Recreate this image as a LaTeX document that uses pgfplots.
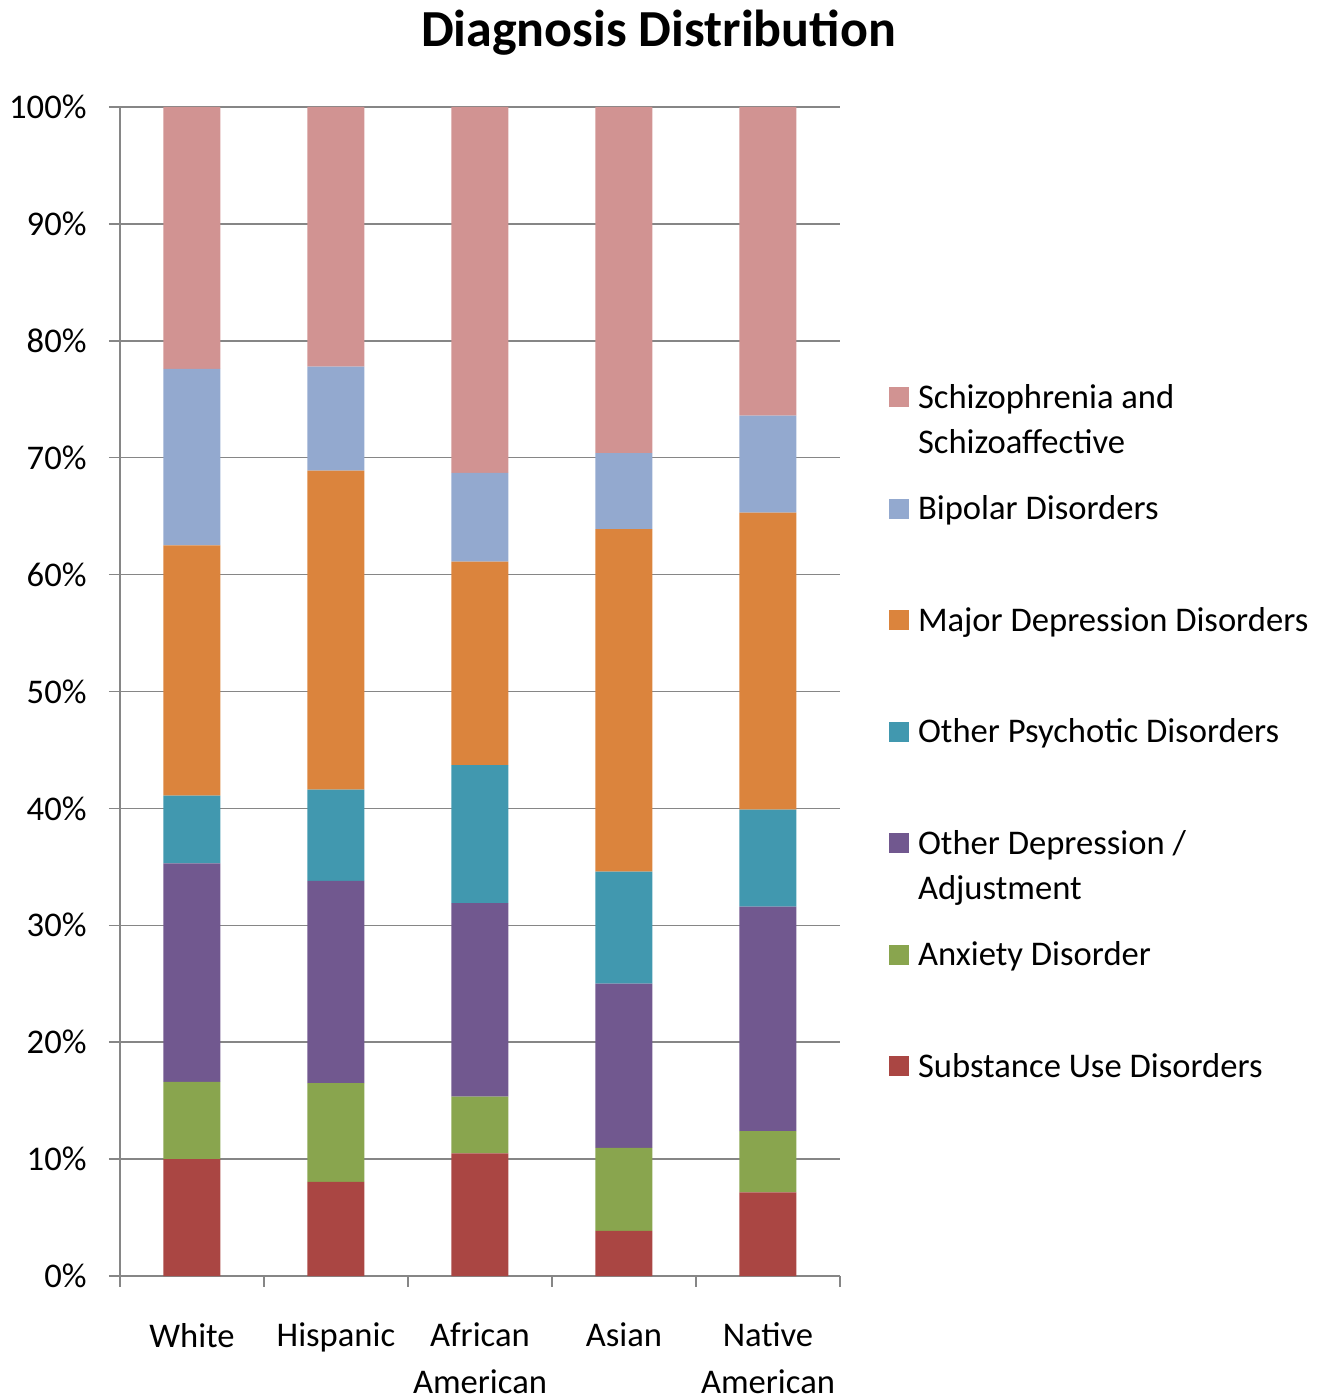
\documentclass[border=0pt]{standalone}
\usepackage{fontspec}
\setmainfont{Carlito}
\usepackage{pgfplots}
\pgfplotsset{compat=1.18}
\definecolor{cSub}{HTML}{AA4643}
\definecolor{cAnx}{HTML}{89A54E}
\definecolor{cODep}{HTML}{71588F}
\definecolor{cOPsy}{HTML}{4198AF}
\definecolor{cMDep}{HTML}{DB843D}
\definecolor{cBip}{HTML}{93A9CF}
\definecolor{cSch}{HTML}{D19392}
\definecolor{axgray}{HTML}{868686}
\newcommand{\LE}[1]{\raisebox{0pt}[28pt][27.75pt]{\parbox[t]{204pt}{\raggedright #1}}}
\pgfplotsset{sq/.style={legend image code/.code={\fill[##1] (0pt,0.5pt) rectangle (10pt,10.5pt);}}}
\begin{document}
\begin{tikzpicture}
\begin{axis}[
  scale only axis, width=360pt, height=584.5pt,
  xmin=-0.5, xmax=4.5, ymin=0, ymax=100,
  ybar stacked, bar width=28.5pt,
  axis lines*=left,
  axis line style={draw=axgray, line width=0.75pt},
  ymajorgrids, grid style={draw=axgray, line width=0.75pt},
  ytick={0,10,...,100},
  yticklabel={\pgfmathprintnumber{\tick}\%},
  xtick={-0.5,0.5,...,4.5}, xticklabels={},
  extra x ticks={0,1,2,3,4},
  extra x tick labels={White,Hispanic,{African\\American},Asian,{Native\\American}},
  extra x tick style={major tick length=0pt},
  xticklabel style={align=center, anchor=north, yshift=-20pt},
  yticklabel style={xshift=-7.7pt},
  tick align=outside, major tick length=5.5pt,
  tick style={draw=axgray, line width=0.75pt},
  /pgf/number format/assume math mode=true,
  ticklabel style={font=\fontsize{17.3}{23.3}\selectfont},
  legend style={at={(axis description cs:1.0681,0.7938)}, anchor=north west,
    draw=none, fill=none, inner sep=0pt, outer sep=0pt, row sep=22.28pt, column sep=2.5pt,
    font=\fontsize{17.3}{22.5}\selectfont,
    cells={anchor=base west, inner sep=0pt, outer sep=0pt}},
  reverse legend,
]
\addplot[sq, fill=cSub, draw=none] coordinates {(0,10.0) (1,8.05) (2,10.5) (3,3.85) (4,7.15)};
\addplot[sq, fill=cAnx, draw=none] coordinates {(0,6.6) (1,8.45) (2,4.85) (3,7.1) (4,5.25)};
\addplot[sq, fill=cODep, draw=none] coordinates {(0,18.7) (1,17.3) (2,16.55) (3,14.05) (4,19.2)};
\addplot[sq, fill=cOPsy, draw=none] coordinates {(0,5.8) (1,7.8) (2,11.8) (3,9.6) (4,8.3)};
\addplot[sq, fill=cMDep, draw=none] coordinates {(0,21.4) (1,27.3) (2,17.4) (3,29.3) (4,25.4)};
\addplot[sq, fill=cBip, draw=none] coordinates {(0,15.1) (1,8.9) (2,7.6) (3,6.5) (4,8.3)};
\addplot[sq, fill=cSch, draw=none] coordinates {(0,22.4) (1,22.2) (2,31.3) (3,29.6) (4,26.4)};
\addlegendentry{\LE{Substance Use Disorders}}
\addlegendentry{\LE{Anxiety Disorder}}
\addlegendentry{\LE{Other Depression /\\Adjustment}}
\addlegendentry{\LE{Other Psychotic Disorders}}
\addlegendentry{\LE{Major Depression Disorders}}
\addlegendentry{\LE{Bipolar Disorders}}
\addlegendentry{\LE{Schizophrenia and\\Schizoaffective}}
\end{axis}
\node[font=\bfseries\fontsize{26}{30}\selectfont, anchor=base] at (269.25pt,614.5pt) {Diagnosis Distribution};
\pgfresetboundingbox
\path[use as bounding box] (-60pt,-61.5pt) rectangle (603pt,638pt);
\end{tikzpicture}
\end{document}
